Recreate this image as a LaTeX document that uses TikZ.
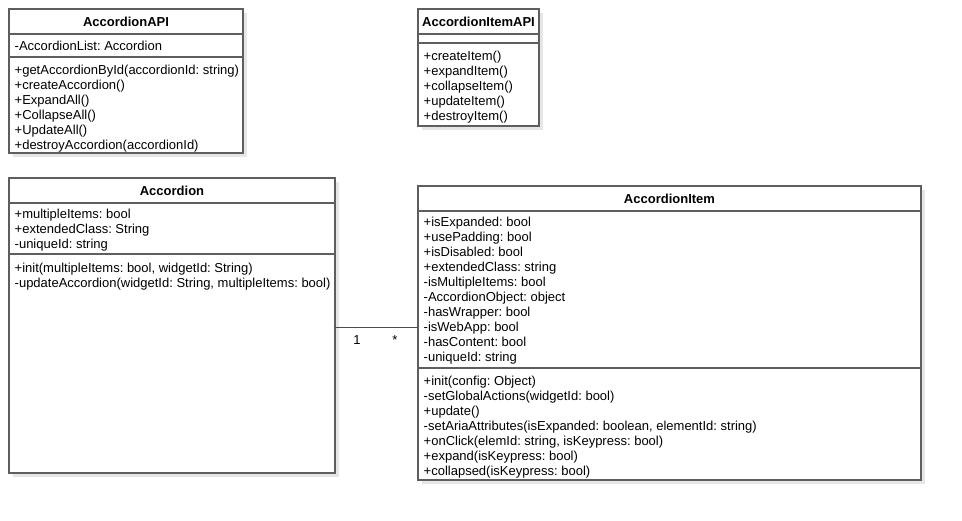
\documentclass[tikz,border=0pt]{standalone}
\usepackage{fontspec}
\setmainfont{Liberation Sans}
\usetikzlibrary{shapes,shadows}
\frenchspacing

\definecolor{boxline}{HTML}{5E5E5E}
\definecolor{boxshade}{HTML}{E6E6E6}

\tikzset{
  classbox/.style={shape=rectangle,draw=boxline,fill=white,line width=1.3pt,inner sep=0pt,outer sep=0pt,anchor=north west,
    general shadow={fill=boxshade,shadow xshift=4pt,shadow yshift=-4pt}},
  classname/.style={font=\fontsize{13}{15}\selectfont\bfseries,inner sep=0pt},
  members/.style={font=\fontsize{13}{15}\selectfont,align=left,anchor=north west,inner sep=0pt},
  divider/.style={-,draw=boxline,line width=1.3pt},
  assoc/.style={-,draw=black!70,line width=0.9pt},
  mult/.style={font=\fontsize{13}{15}\selectfont,inner sep=0pt}
}

\begin{document}
\begin{tikzpicture}[x=1pt,y=-1pt]
\useasboundingbox (0,0) rectangle (962,521);

\node[classbox,minimum width=234pt,minimum height=144pt] (0) at (9,9) {};
\node[classbox,minimum width=121pt,minimum height=117pt] (1) at (418,9) {};
\node[classbox,minimum width=326pt,minimum height=295pt] (2) at (9,178) {};
\node[classbox,minimum width=503pt,minimum height=294pt] (3) at (418,186) {};

\path [divider] ([yshift=-25pt]0.north west) -- ([yshift=-25pt]0.north east);
\path [divider] ([yshift=-48pt]0.north west) -- ([yshift=-48pt]0.north east);
\path [divider] ([yshift=-25pt]1.north west) -- ([yshift=-25pt]1.north east);
\path [divider] ([yshift=-34pt]1.north west) -- ([yshift=-34pt]1.north east);
\path [divider] ([yshift=-25pt]2.north west) -- ([yshift=-25pt]2.north east);
\path [divider] ([yshift=-76pt]2.north west) -- ([yshift=-76pt]2.north east);
\path [divider] ([yshift=-25pt]3.north west) -- ([yshift=-25pt]3.north east);
\path [divider] ([yshift=-182pt]3.north west) -- ([yshift=-182pt]3.north east);

\node[classname] (0t) at ([yshift=-12.5pt]0.north) {AccordionAPI};
\node[members] (0a) at ([xshift=5.5pt,yshift=-32pt]0.north west) {-AccordionList: Accordion};
\node[members] (0m) at ([xshift=5.5pt,yshift=-56pt]0.north west) {+getAccordionById(accordionId: string)\\+createAccordion()\\+ExpandAll()\\+CollapseAll()\\+UpdateAll()\\+destroyAccordion(accordionId)};

\node[classname] (1t) at ([yshift=-12.5pt]1.north) {AccordionItemAPI};
\node[members] (1m) at ([xshift=5.5pt,yshift=-42pt]1.north west) {+createItem()\\+expandItem()\\+collapseItem()\\+updateItem()\\+destroyItem()};

\node[classname] (2t) at ([yshift=-12.5pt]2.north) {Accordion};
\node[members] (2a) at ([xshift=5.5pt,yshift=-31pt]2.north west) {+multipleItems: bool\\+extendedClass: String\\-uniqueId: string};
\node[members] (2m) at ([xshift=5.5pt,yshift=-85pt]2.north west) {+init(multipleItems: bool, widgetId: String)\\-updateAccordion(widgetId: String, multipleItems: bool)};

\node[classname] (3t) at ([yshift=-12.5pt]3.north) {AccordionItem};
\node[members] (3a) at ([xshift=5.5pt,yshift=-31pt]3.north west) {+isExpanded: bool\\+usePadding: bool\\+isDisabled: bool\\+extendedClass: string\\-isMultipleItems: bool\\-AccordionObject: object\\-hasWrapper: bool\\-isWebApp: bool\\-hasContent: bool\\-uniqueId: string};
\node[members] (3m) at ([xshift=5.5pt,yshift=-190pt]3.north west) {+init(config: Object)\\-setGlobalActions(widgetId: bool)\\+update()\\-setAriaAttributes(isExpanded: boolean, elementId: string)\\+onClick(elemId: string, isKeypress: bool)\\+expand(isKeypress: bool)\\+collapsed(isKeypress: bool)};

\coordinate (c) at ([yshift=-2pt]2.east);
\path [assoc] (c) -- (c -| 3.west);
\node[mult] (4) at (357,340) {1};
\node[mult] (5) at (395,340) {*};
\end{tikzpicture}
\end{document}
